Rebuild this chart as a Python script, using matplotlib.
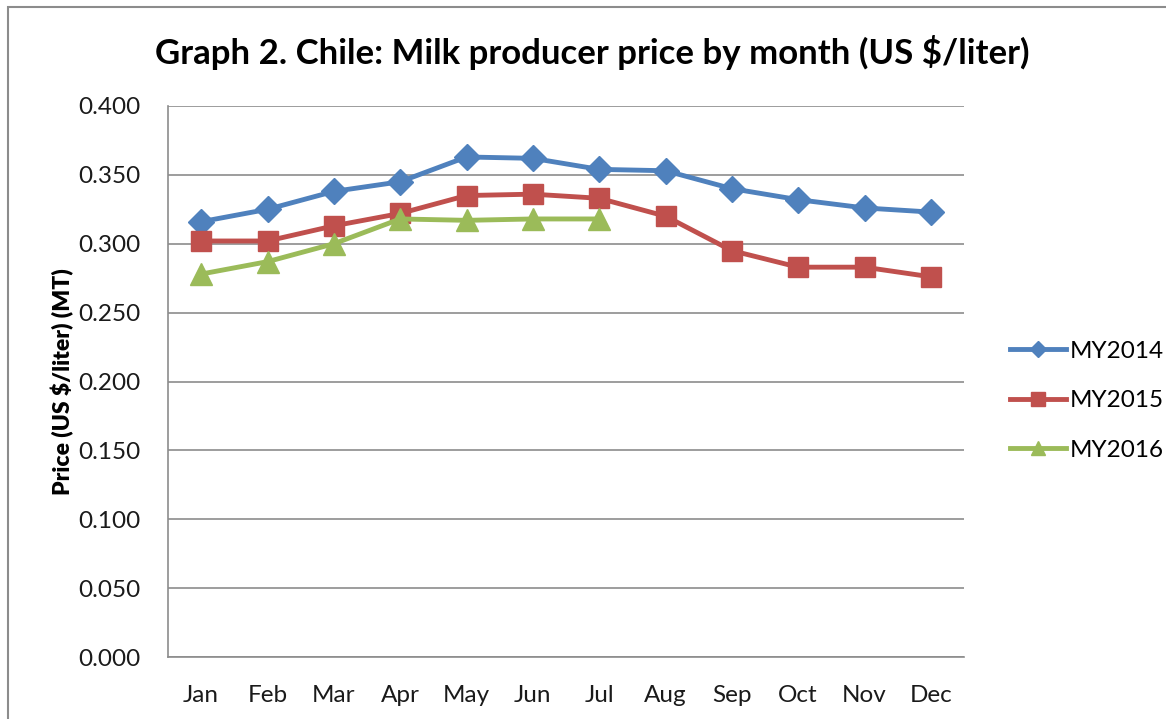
import numpy as np
import matplotlib.pyplot as plt
from matplotlib.patches import Rectangle

months = ["Jan", "Feb", "Mar", "Apr", "May", "Jun", "Jul", "Aug", "Sep", "Oct", "Nov", "Dec"]
my2014 = [0.316, 0.325, 0.338, 0.345, 0.363, 0.362, 0.354, 0.353, 0.340, 0.332, 0.326, 0.323]
my2015 = [0.302, 0.302, 0.313, 0.322, 0.335, 0.336, 0.333, 0.320, 0.295, 0.283, 0.283, 0.276]
my2016 = [0.278, 0.287, 0.300, 0.318, 0.317, 0.318, 0.318]

plt.rcParams['font.family'] = ['Lato', 'DejaVu Sans']

fig = plt.figure(figsize=(11.66, 7.19), dpi=100)
# outer chart border
fig.patches.append(Rectangle((8/1166, -0.05), 1.2, (719-7)/719 + 0.05, transform=fig.transFigure,
                             fill=False, edgecolor="#8c8c8c", linewidth=1.5))

ax = fig.add_axes([168/1166, 1-657/719, (964-168)/1166, (657-106)/719])

x = np.arange(len(months))
ax.plot(x, my2014, color="#4F81BD", lw=3.5, marker="D", markersize=13, label="MY2014")
ax.plot(x, my2015, color="#C0504D", lw=3.5, marker="s", markersize=15, label="MY2015")
ax.plot(x[:len(my2016)], my2016, color="#9BBB59", lw=3.5, marker="^", markersize=16, label="MY2016")

ax.set_xlim(-0.5, 11.5)
ax.set_ylim(0, 0.4)
ax.set_yticks(np.arange(0, 0.401, 0.05))
ax.set_yticklabels([f"{v:.3f}" for v in np.arange(0, 0.401, 0.05)])
ax.set_xticks(x)
ax.set_xticklabels(months)
ax.tick_params(axis="both", length=0, labelsize=17.5, colors="#1a1a1a")
ax.tick_params(axis="x", pad=20)
ax.tick_params(axis="y", pad=20)
ax.yaxis.grid(True, color="#8c8c8c", lw=1.2)
ax.set_axisbelow(True)
for s in ["top", "right"]:
    ax.spines[s].set_visible(False)
for s in ["left", "bottom"]:
    ax.spines[s].set_color("#8c8c8c")
    ax.spines[s].set_linewidth(1.2)

ax.set_ylabel("Price (US $/liter) (MT)", fontsize=16.5, fontweight="heavy", labelpad=3)
fig.text(0.508, 1-52/719, "Graph 2. Chile: Milk producer price by month (US $/liter)",
         ha="center", va="center", fontsize=25, fontweight="bold")

leg = ax.legend(loc="center left", bbox_to_anchor=(1.03, 0.465), frameon=False, fontsize=17.5,
                handlelength=2.3, labelspacing=1.18, handletextpad=0.15, markerscale=0.65)

fig.savefig("out.png", dpi=100)
